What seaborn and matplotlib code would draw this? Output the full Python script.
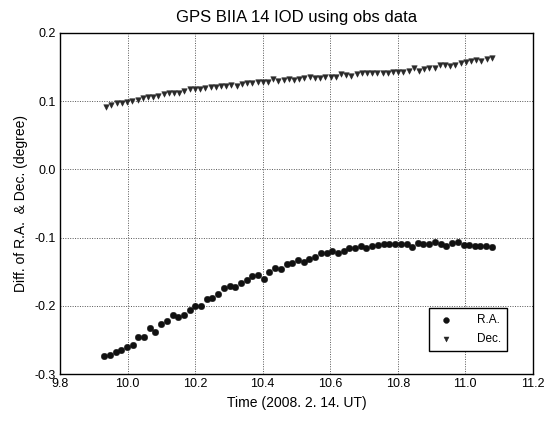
import matplotlib
matplotlib.use("Agg")
import matplotlib.pyplot as plt
import seaborn as sns
import pandas as pd

# Observation epochs (hours UT, 2008-02-14) and differences in degrees
ra_time = [9.930, 9.947, 9.964, 9.981, 9.998, 10.015, 10.031, 10.048, 10.065, 10.082,
           10.099, 10.116, 10.133, 10.150, 10.167, 10.184, 10.200, 10.217, 10.234, 10.251,
           10.268, 10.285, 10.302, 10.319, 10.336, 10.353, 10.369, 10.386, 10.403, 10.420,
           10.437, 10.454, 10.471, 10.488, 10.505, 10.522, 10.538, 10.555, 10.572, 10.589,
           10.606, 10.623, 10.640, 10.657, 10.674, 10.691, 10.707, 10.724, 10.741, 10.758,
           10.775, 10.792, 10.809, 10.826, 10.843, 10.860, 10.876, 10.893, 10.910, 10.927,
           10.944, 10.961, 10.978, 10.995, 11.012, 11.029, 11.045, 11.062, 11.079]
ra_diff = [-0.274, -0.272, -0.268, -0.2645, -0.261, -0.258, -0.246, -0.246, -0.233, -0.239,
           -0.227, -0.223, -0.214, -0.217, -0.213, -0.206, -0.201, -0.200, -0.190, -0.188,
           -0.183, -0.174, -0.171, -0.172, -0.166, -0.162, -0.156, -0.155, -0.161, -0.150,
           -0.145, -0.146, -0.139, -0.137, -0.133, -0.136, -0.131, -0.128, -0.123, -0.122,
           -0.119, -0.123, -0.119, -0.115, -0.115, -0.113, -0.115, -0.113, -0.111, -0.110,
           -0.110, -0.109, -0.109, -0.110, -0.114, -0.108, -0.109, -0.109, -0.107, -0.110,
           -0.113, -0.108, -0.107, -0.111, -0.111, -0.112, -0.112, -0.113, -0.114]

dec_time = [9.937, 9.952, 9.968, 9.983, 9.999, 10.014, 10.030, 10.045, 10.060, 10.076,
            10.091, 10.107, 10.122, 10.138, 10.153, 10.168, 10.184, 10.199, 10.215, 10.230,
            10.246, 10.261, 10.276, 10.292, 10.307, 10.323, 10.338, 10.354, 10.369, 10.385,
            10.400, 10.415, 10.431, 10.446, 10.462, 10.477, 10.493, 10.508, 10.523, 10.539,
            10.554, 10.570, 10.585, 10.601, 10.616, 10.631, 10.647, 10.662, 10.678, 10.693,
            10.709, 10.724, 10.739, 10.755, 10.770, 10.786, 10.801, 10.817, 10.832, 10.847,
            10.863, 10.878, 10.894, 10.909, 10.925, 10.940, 10.955, 10.971, 10.986, 11.002,
            11.017, 11.033, 11.048, 11.064, 11.079]
dec_diff = [0.0907, 0.0941, 0.0966, 0.0975, 0.0980, 0.1005, 0.1015, 0.1039, 0.1054, 0.1064,
            0.1078, 0.1098, 0.1113, 0.1123, 0.1123, 0.1152, 0.1172, 0.1176, 0.1176, 0.1186,
            0.1211, 0.1211, 0.1221, 0.1221, 0.1235, 0.1225, 0.1245, 0.1260, 0.1270, 0.1275,
            0.1275, 0.1284, 0.1319, 0.1299, 0.1309, 0.1324, 0.1309, 0.1324, 0.1333, 0.1348,
            0.1343, 0.1343, 0.1348, 0.1358, 0.1358, 0.1392, 0.1382, 0.1372, 0.1397, 0.1407,
            0.1416, 0.1407, 0.1407, 0.1407, 0.1407, 0.1431, 0.1422, 0.1431, 0.1446, 0.1490,
            0.1446, 0.1466, 0.1480, 0.1480, 0.1529, 0.1529, 0.1520, 0.1529, 0.1554, 0.1578,
            0.1593, 0.1603, 0.1593, 0.1618, 0.1627]

x_ticks = [9.8, 10.0, 10.2, 10.4, 10.6, 10.8, 11.0, 11.2]
y_ticks = [-0.3, -0.2, -0.1, 0.0, 0.1, 0.2]

sns.set_theme(style="white")
plt.rcParams["font.family"] = ["Liberation Sans", "DejaVu Sans"]

ra_df = pd.DataFrame({"time": ra_time, "diff": ra_diff})
dec_df = pd.DataFrame({"time": dec_time, "diff": dec_diff})

fig = plt.figure(figsize=(5.47, 4.26), dpi=100)
ax = fig.add_axes([0.110, 0.122, 0.864, 0.801])

sns.scatterplot(data=ra_df, x="time", y="diff", ax=ax, marker="o", s=22,
                color="#111111", edgecolor="#111111", linewidth=0.3, label="R.A.")
sns.scatterplot(data=dec_df, x="time", y="diff", ax=ax, marker="v", s=16,
                color="#2a2a2a", edgecolor="#1a1a1a", linewidth=0.3, label="Dec.")

ax.set_xlim(9.8, 11.2)
ax.set_ylim(-0.3, 0.2)
ax.set_xticks(x_ticks)
ax.set_xticklabels([f"{v:.1f}" for v in x_ticks])
ax.set_yticks(y_ticks)
ax.set_yticklabels([f"{v:.1f}" for v in y_ticks])

ax.grid(True, linestyle=(0, (1, 1.5)), color="#555555", linewidth=0.7)
ax.set_axisbelow(True)
for sp in ax.spines.values():
    sp.set_color("black")
    sp.set_linewidth(1.0)
    sp.set_visible(True)

ax.tick_params(axis="both", direction="in", length=3, width=0.8, colors="black",
               labelsize=9, pad=3)
ax.set_xlabel("Time (2008. 2. 14. UT)", fontsize=10, color="black", labelpad=4)
ax.set_ylabel("Diff. of R.A.  & Dec. (degree)", fontsize=10, color="black", labelpad=5)
ax.set_title("GPS BIIA 14 IOD using obs data", fontsize=12, color="black", pad=8)

leg = ax.legend(loc="lower right", bbox_to_anchor=(0.958, 0.05), fontsize=8.5,
                frameon=True, fancybox=False, edgecolor="black", framealpha=1,
                handletextpad=1.6, borderpad=0.5, labelspacing=0.6, markerscale=0.9)
leg.get_frame().set_linewidth(1.0)
for t in leg.get_texts():
    t.set_color("black")

fig.savefig("out.png", dpi=100)
